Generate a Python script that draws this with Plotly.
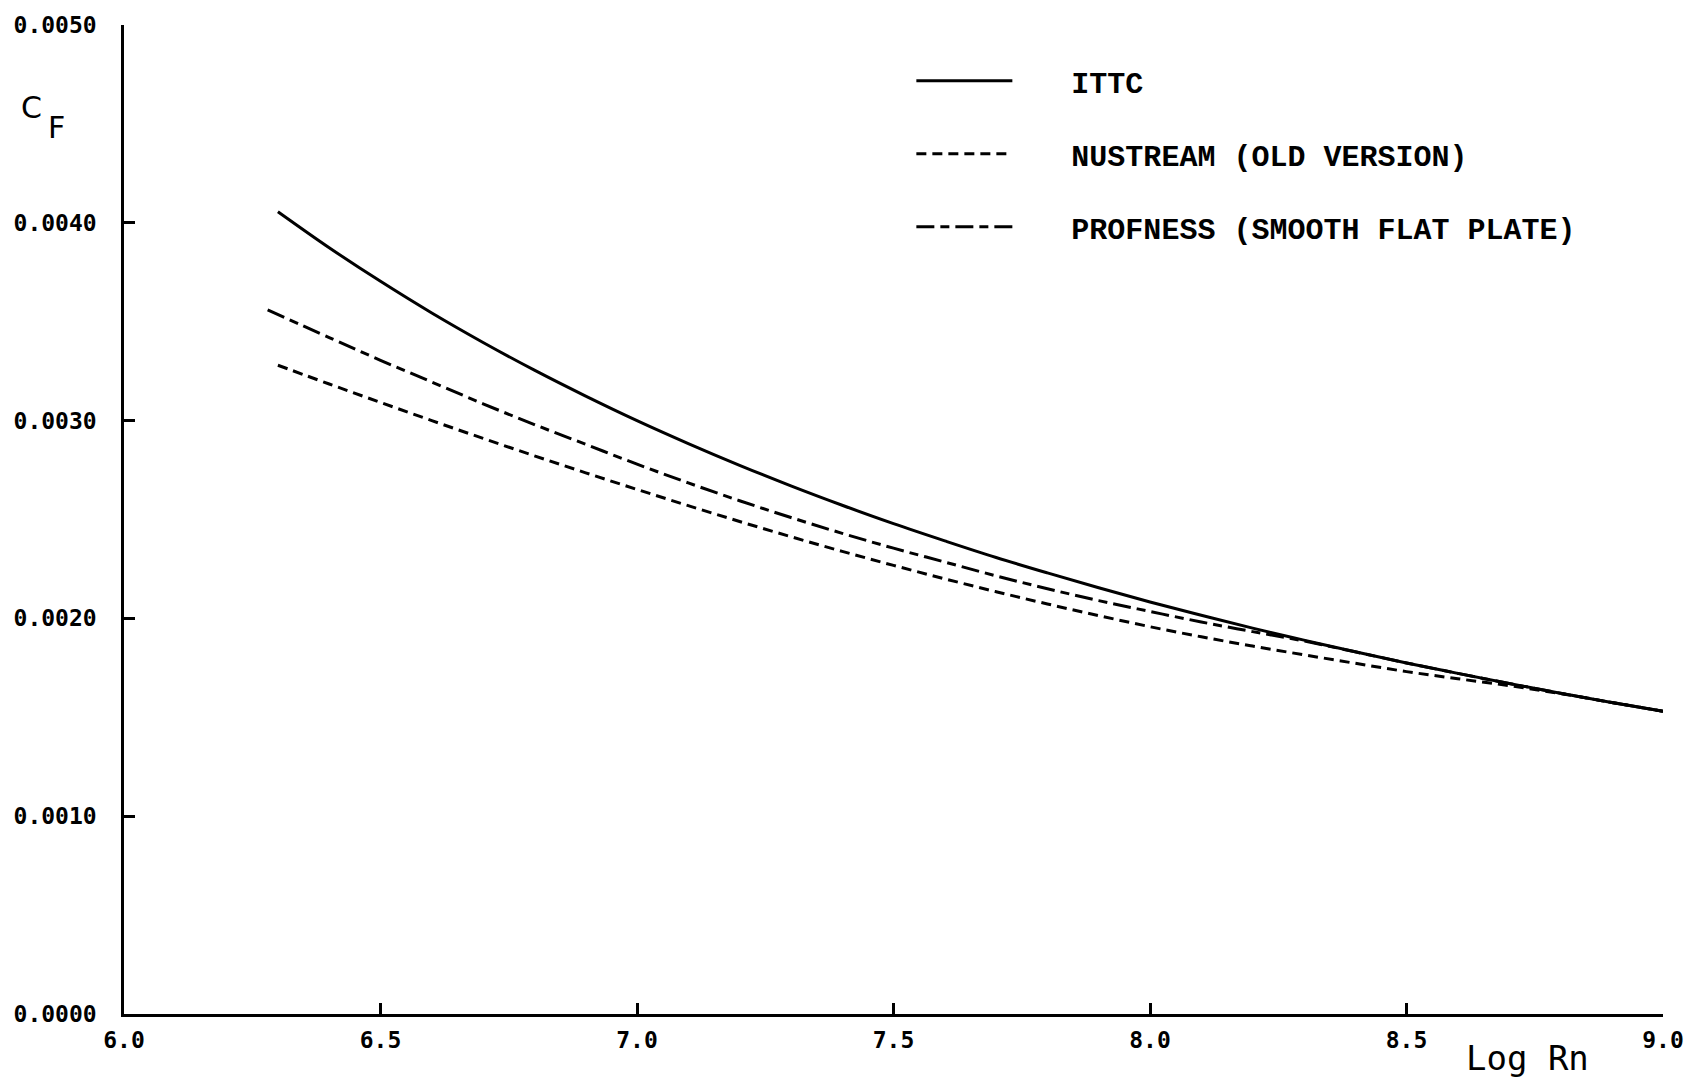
import plotly.graph_objects as go

# Data (C_F values)
log_rn = [6.3, 6.4, 6.5, 6.6, 6.7, 6.8, 6.9, 7.0, 7.1, 7.2, 7.3, 7.4, 7.5, 7.6,
          7.7, 7.8, 7.9, 8.0, 8.1, 8.2, 8.3, 8.4, 8.5, 8.6, 8.7, 8.8, 8.9, 9.0]

ittc = [0.004056, 0.003874, 0.003704, 0.003544, 0.003395, 0.003255, 0.003124,
        0.003000, 0.002884, 0.002774, 0.002670, 0.002572, 0.002479, 0.002392,
        0.002308, 0.002230, 0.002155, 0.002083, 0.002016, 0.001951, 0.001890,
        0.001831, 0.001775, 0.001722, 0.001671, 0.001622, 0.001575, 0.001531]

nustream = [0.003280, 0.003185, 0.003092, 0.003000, 0.002910, 0.002822, 0.002736,
            0.002652, 0.002570, 0.002490, 0.002413, 0.002339, 0.002268, 0.002200,
            0.002135, 0.002073, 0.002014, 0.001958, 0.001907, 0.001860, 0.001816,
            0.001773, 0.001731, 0.001695, 0.001660, 0.001620, 0.001575, 0.001531]

log_rn_prof = [6.28, 6.4, 6.5, 6.6, 6.7, 6.8, 6.9, 7.0, 7.1, 7.2, 7.3, 7.4, 7.5, 7.6,
               7.7, 7.8, 7.9, 8.0, 8.1, 8.2, 8.3, 8.4, 8.5, 8.6, 8.7, 8.8, 8.9, 9.0]
profness = [0.003560, 0.003420, 0.003305, 0.003195, 0.003085, 0.002980, 0.002880,
            0.002780, 0.002685, 0.002595, 0.002510, 0.002430, 0.002355, 0.002285,
            0.002215, 0.002150, 0.002090, 0.002035, 0.001982, 0.001933, 0.001886,
            0.001831, 0.001775, 0.001722, 0.001671, 0.001622, 0.001575, 0.001531]

x_ticks = [6.0, 6.5, 7.0, 7.5, 8.0, 8.5, 9.0]
x_tick_text = ["6.0", "6.5", "7.0", "7.5", "8.0", "8.5", "9.0"]
y_ticks = [0.0, 0.001, 0.002, 0.003, 0.004, 0.005]
y_tick_text = ["0.0000", "0.0010", "0.0020", "0.0030", "0.0040", "0.0050"]

PAD = "\u00a0\u00a0\u00a0"

fig = go.Figure()
fig.add_trace(go.Scatter(x=log_rn, y=ittc, mode="lines", name=PAD + "ITTC",
                         legendgroup="a",
                         line=dict(color="black", width=3, shape="spline")))
fig.add_trace(go.Scatter(x=log_rn, y=nustream, mode="lines",
                         name=PAD + "NUSTREAM (OLD VERSION)", legendgroup="b",
                         line=dict(color="black", width=3, dash="10px,6px",
                                   shape="spline")))
fig.add_trace(go.Scatter(x=log_rn_prof, y=profness, mode="lines",
                         name=PAD + "PROFNESS (SMOOTH FLAT PLATE)", legendgroup="c",
                         line=dict(color="black", width=3,
                                   dash="18px,6px,9px,6px", shape="spline")))

tick_font = dict(family="DejaVu Sans Mono", size=23, color="black", weight="bold")

fig.update_layout(
    width=1696, height=1080,
    margin=dict(l=124, r=24, t=19, b=66),
    paper_bgcolor="white", plot_bgcolor="white",
    showlegend=True,
    legend=dict(
        x=0.5116, y=0.9698, xanchor="left", yanchor="top",
        font=dict(family="Liberation Mono", size=30, color="black", weight="bold"),
        itemwidth=96, tracegroupgap=31, traceorder="grouped",
        bgcolor="rgba(0,0,0,0)",
    ),
    xaxis=dict(
        range=[6.0, 9.0], tickvals=x_ticks, ticktext=x_tick_text,
        ticks="inside", ticklen=11, tickwidth=2.5, tickcolor="black",
        showline=True, linecolor="black", linewidth=2.5, showgrid=False,
        zeroline=False, tickfont=tick_font, ticklabelstandoff=4,
    ),
    yaxis=dict(
        range=[0.0, 0.005], tickvals=y_ticks, ticktext=y_tick_text,
        ticks="inside", ticklen=11, tickwidth=2.5, tickcolor="black",
        showline=True, linecolor="black", linewidth=2.5, showgrid=False,
        zeroline=False, tickfont=tick_font, ticklabelstandoff=20,
    ),
    annotations=[
        dict(text="Log Rn", xref="paper", yref="paper", x=0.912, y=-0.0442,
             xanchor="center", yanchor="middle", showarrow=False,
             font=dict(family="DejaVu Sans Mono", size=34, color="black")),
        dict(text="C", xref="paper", yref="paper", x=-0.060, y=0.917,
             xanchor="center", yanchor="middle", showarrow=False,
             font=dict(family="DejaVu Sans", size=30, color="black")),
        dict(text="F", xref="paper", yref="paper", x=-0.044, y=0.896,
             xanchor="center", yanchor="middle", showarrow=False,
             font=dict(family="DejaVu Sans", size=30, color="black")),
    ],
)

fig.write_html("out.html")
